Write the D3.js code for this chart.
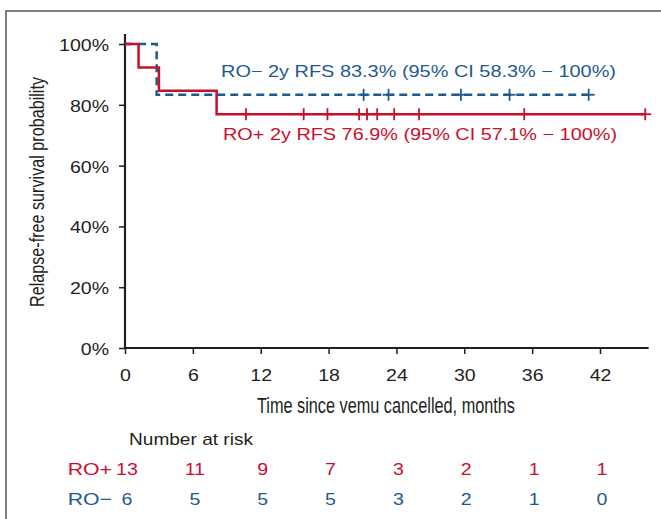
<!DOCTYPE html>
<html>
<head>
<meta charset="utf-8">
<script src="https://cdn.jsdelivr.net/npm/d3@7"></script>
<style>
  body { margin: 0; background: #fff; }
  text { font-family: "Liberation Sans", Arial, sans-serif; }
</style>
</head>
<body>
<div id="chart"></div>
<script>
    const WIDTH = 661;
    const HEIGHT = 519;
    const RED = "#c8102e";
    const BLUE = "#1d5a91";
    const INK = "#231f20";
    const STRETCH = 1.22;   // the figure is widened a bit, so text is too

    // KM steps (time in months, survival after the step)
    const posTimes = [0, 1.2, 3.0, 8.1];
    const posSurv = [1, 0.923, 0.846, 0.769];
    const posEnd = 46.0;
    const posCensor = [10.7, 15.8, 17.9, 20.7, 21.4, 22.3, 23.8, 26.0, 35.3, 46.0];

    const negTimes = [0, 2.8];
    const negSurv = [1, 0.833];
    const negEnd = 41.0;
    const negCensor = [21.1, 23.3, 29.7, 34.0, 41.0];

    const xTicks = [0, 6, 12, 18, 24, 30, 36, 42];
    const yTicks = [0, 0.2, 0.4, 0.6, 0.8, 1];
    const riskPos = [13, 11, 9, 7, 3, 2, 1, 1];
    const riskNeg = [6, 5, 5, 5, 3, 2, 1, 0];

    const svg = d3.select("#chart").append("svg")
        .attr("width", WIDTH)
        .attr("height", HEIGHT);

    // widen / narrow a text node to a factor of its natural length
    function stretch(sel, k) {
        sel.each(function () {
            const len = this.getComputedTextLength();
            d3.select(this)
                .attr("textLength", len * k)
                .attr("lengthAdjust", "spacingAndGlyphs");
        });
    }

    // outer frame (only top and left visible in the crop)
    svg.append("rect")
        .attr("x", 6).attr("y", 11)
        .attr("width", WIDTH + 10).attr("height", HEIGHT + 10)
        .attr("fill", "none")
        .attr("stroke", "#555")
        .attr("stroke-width", 1.5);

    const x = d3.scaleLinear().domain([0, 42]).range([125, 600]);
    const y = d3.scaleLinear().domain([0, 1]).range([348, 44]);

    // axes
    const xAxis = svg.append("g")
        .attr("transform", "translate(0," + y(0) + ")")
        .call(d3.axisBottom(x).tickValues(xTicks).tickSize(6).tickPadding(6).tickSizeOuter(0));
    xAxis.select(".domain").attr("d", "M" + (x(0) - 1) + ",0H" + x(46.3));

    const yAxis = svg.append("g")
        .attr("transform", "translate(" + x(0) + ",0)")
        .call(d3.axisLeft(y).tickValues(yTicks).tickFormat(d3.format(".0%")).tickSize(6).tickPadding(10).tickSizeOuter(0));
    yAxis.select(".domain").attr("d", "M0," + (y(1) - 10) + "V" + (y(0) + 1));

    svg.selectAll(".domain").attr("stroke", INK).attr("stroke-width", 2.2);
    svg.selectAll(".tick line").attr("stroke", INK).attr("stroke-width", 1.5);
    svg.selectAll(".tick text")
        .attr("fill", INK)
        .style("font-size", "16px");
    xAxis.selectAll(".tick text").attr("dy", "1.3em");
    yAxis.selectAll(".tick text").attr("dy", "0.4em");
    stretch(svg.selectAll(".tick text"), STRETCH);

    // axis titles (condensed face)
    svg.append("text")
        .attr("x", 386).attr("y", 413)
        .attr("text-anchor", "middle")
        .attr("fill", INK)
        .style("font-size", "21.5px")
        .attr("textLength", 258)
        .attr("lengthAdjust", "spacingAndGlyphs")
        .text("Time since vemu cancelled, months");

    svg.append("text")
        .attr("transform", "translate(44,192) rotate(-90)")
        .attr("text-anchor", "middle")
        .attr("fill", INK)
        .style("font-size", "20px")
        .attr("textLength", 230)
        .attr("lengthAdjust", "spacingAndGlyphs")
        .text("Relapse-free survival probability");

    // step curves
    function stepPath(times, surv, end) {
        const pts = [];
        times.forEach(function (t, i) {
            if (i > 0) pts.push([t, surv[i - 1]]);
            pts.push([t, surv[i]]);
        });
        pts.push([end, surv[surv.length - 1]]);
        return d3.line().x(d => x(d[0])).y(d => y(d[1]))(pts);
    }
    function survAt(times, surv, t) {
        let s = surv[0];
        times.forEach(function (tt, i) { if (tt <= t) s = surv[i]; });
        return s;
    }
    function censorMarks(times, surv, list, color) {
        const g = svg.append("g").attr("stroke", color).attr("stroke-width", 1.8);
        list.forEach(function (t) {
            const cx = x(t), cy = y(survAt(times, surv, t));
            g.append("line").attr("x1", cx - 6).attr("x2", cx + 6).attr("y1", cy).attr("y2", cy);
            g.append("line").attr("x1", cx).attr("x2", cx).attr("y1", cy - 6).attr("y2", cy + 6);
        });
    }

    svg.append("path")
        .attr("d", stepPath(negTimes, negSurv, negEnd))
        .attr("fill", "none")
        .attr("stroke", BLUE)
        .attr("stroke-width", 2.5)
        .attr("stroke-dasharray", "8,5");
    censorMarks(negTimes, negSurv, negCensor, BLUE);

    svg.append("path")
        .attr("d", stepPath(posTimes, posSurv, posEnd))
        .attr("fill", "none")
        .attr("stroke", RED)
        .attr("stroke-width", 2.5);
    censorMarks(posTimes, posSurv, posCensor, RED);

    // annotations
    svg.append("text")
        .attr("x", 221).attr("y", 77)
        .attr("fill", BLUE)
        .style("font-size", "16.5px")
        .attr("textLength", 395)
        .attr("lengthAdjust", "spacingAndGlyphs")
        .text("RO\u2212 2y RFS 83.3% (95% CI 58.3% \u2212 100%)");
    svg.append("text")
        .attr("x", 223).attr("y", 140)
        .attr("fill", RED)
        .style("font-size", "16.5px")
        .attr("textLength", 394)
        .attr("lengthAdjust", "spacingAndGlyphs")
        .text("RO+ 2y RFS 76.9% (95% CI 57.1% \u2212 100%)");

    // number at risk table
    svg.append("text")
        .attr("x", 129).attr("y", 445)
        .attr("fill", INK)
        .style("font-size", "17px")
        .attr("textLength", 124)
        .attr("lengthAdjust", "spacingAndGlyphs")
        .text("Number at risk");

    [[riskPos, "RO+", RED, 475], [riskNeg, "RO\u2212", BLUE, 505]].forEach(function (row) {
        const lab = svg.append("text")
            .attr("x", 112).attr("y", row[3])
            .attr("text-anchor", "end")
            .attr("fill", row[2])
            .style("font-size", "17px")
            .text(row[1]);
        stretch(lab, 1.25);
        row[0].forEach(function (n, i) {
            const t = svg.append("text")
                .attr("x", x(xTicks[i]) + 2).attr("y", row[3])
                .attr("text-anchor", "middle")
                .attr("fill", row[2])
                .style("font-size", "17px")
                .text(n);
            stretch(t, 1.15);
        });
    });
</script>
</body>
</html>
